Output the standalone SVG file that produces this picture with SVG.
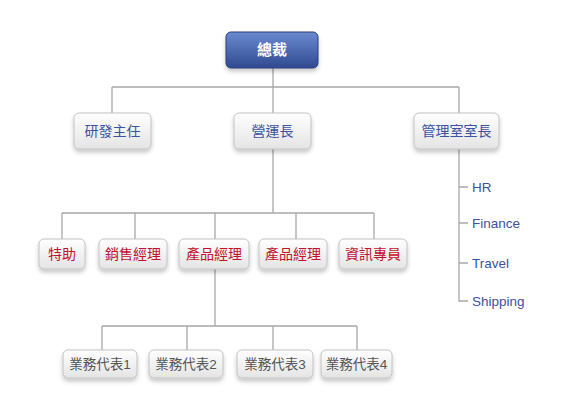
<svg xmlns="http://www.w3.org/2000/svg" width="580" height="420" viewBox="0 0 580 420">
<defs>
<linearGradient id="gBox" x1="0" y1="0" x2="0" y2="1">
<stop offset="0" stop-color="#ffffff"/>
<stop offset="1" stop-color="#e4e4e4"/>
</linearGradient>
<linearGradient id="gTop" x1="0" y1="0" x2="0" y2="1">
<stop offset="0" stop-color="#6a8ad0"/>
<stop offset="1" stop-color="#2f4a91"/>
</linearGradient>
<filter id="sh" x="-20%" y="-20%" width="140%" height="160%">
<feDropShadow dx="0" dy="3" stdDeviation="2" flood-color="#000" flood-opacity="0.22"/>
</filter>
</defs>
<style>
.box{fill:url(#gBox);stroke:#c2c2c2;stroke-width:1;filter:url(#sh)}
.top{fill:url(#gTop);stroke:#2a3e7c;stroke-width:1;filter:url(#sh)}
.conn{fill:none;stroke:#a8a8a8;stroke-width:1.3}
text{font-family:"Liberation Sans","Noto Sans CJK TC",sans-serif;text-anchor:middle}
.t0{fill:#ffffff;font-size:15px;font-weight:bold}
.t1{fill:#3a52a0;font-size:14px}
.t2{fill:#c0122c;font-size:14px}
.t3{fill:#555555;font-size:13.5px}
.side{fill:#3a52a0;font-size:13.5px;text-anchor:start}
</style>
<rect width="580" height="420" fill="#ffffff"/>
<g id="connectors">
<path class="conn" d="M273 68V87M112 87H459M112 87V113M273 87V113M459 87V113"/>
<path class="conn" d="M273 149V213M62 213H374M62 213V239M135 213V239M215 213V239M296 213V239M374 213V239"/>
<path class="conn" d="M215 269V326M102 326H357M102 326V350M187 326V350M273 326V350M357 326V350"/>
<path class="conn" d="M459 149V301H468M459 187H468M459 223H468M459 263H468"/>
</g>
<g id="n-ceo"><rect class="top" x="226" y="32" width="92" height="36" rx="5"/><text class="t0" x="272" y="55">總裁</text></g>
<g id="n-rd"><rect class="box" x="74" y="113" width="77" height="36" rx="5"/><text class="t1" x="112.5" y="136">研發主任</text></g>
<g id="n-coo"><rect class="box" x="234" y="113" width="77" height="36" rx="5"/><text class="t1" x="272.5" y="136">營運長</text></g>
<g id="n-admin"><rect class="box" x="414" y="113" width="85" height="36" rx="5"/><text class="t1" x="456.5" y="136">管理室室長</text></g>
<g id="n-assist"><rect class="box" x="39" y="239" width="46" height="30" rx="5"/><text class="t2" x="62" y="259">特助</text></g>
<g id="n-sales"><rect class="box" x="99" y="239" width="68" height="30" rx="5"/><text class="t2" x="133" y="259">銷售經理</text></g>
<g id="n-pm1"><rect class="box" x="179" y="239" width="70" height="30" rx="5"/><text class="t2" x="214" y="259">產品經理</text></g>
<g id="n-pm2"><rect class="box" x="259" y="239" width="68" height="30" rx="5"/><text class="t2" x="293" y="259">產品經理</text></g>
<g id="n-it"><rect class="box" x="339" y="239" width="68" height="30" rx="5"/><text class="t2" x="373" y="259">資訊專員</text></g>
<g id="n-rep1"><rect class="box" x="63" y="350" width="74" height="28" rx="5"/><text class="t3" x="100" y="369">業務代表1</text></g>
<g id="n-rep2"><rect class="box" x="149" y="350" width="74" height="28" rx="5"/><text class="t3" x="186" y="369">業務代表2</text></g>
<g id="n-rep3"><rect class="box" x="237" y="350" width="76" height="28" rx="5"/><text class="t3" x="275" y="369">業務代表3</text></g>
<g id="n-rep4"><rect class="box" x="321" y="350" width="71" height="28" rx="5"/><text class="t3" x="356.5" y="369">業務代表4</text></g>
<g id="n-list">
<text class="side" x="472" y="191.5">HR</text>
<text class="side" x="472" y="227.5">Finance</text>
<text class="side" x="472" y="267.5">Travel</text>
<text class="side" x="472" y="305.5">Shipping</text>
</g>
</svg>
